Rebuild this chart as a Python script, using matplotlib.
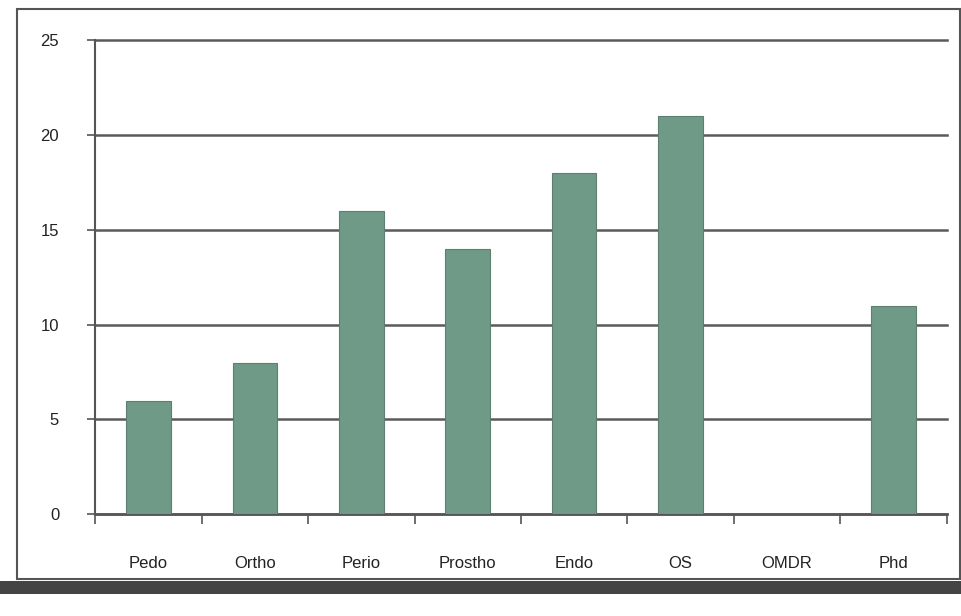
import matplotlib.pyplot as plt
import numpy as np
from matplotlib.patches import Rectangle

# Bar chart of departments
departments = ['Pedo', 'Ortho', 'Perio', 'Prostho', 'Endo', 'OS', 'OMDR', 'Phd']
counts = [6, 8, 16, 14, 18, 21, 0, 11]
yticks = [0, 5, 10, 15, 20, 25]

plt.rcParams['font.family'] = ['Liberation Sans', 'DejaVu Sans']

fig = plt.figure(figsize=(9.62, 6.16), dpi=100)
fig.patch.set_facecolor('white')

# outer frame of the chart, like the Excel chart box
frame = Rectangle((0.018, 0.06), 0.98, 0.925, transform=fig.transFigure,
                  fill=False, edgecolor='#555555', linewidth=1.5)
fig.patches.append(frame)
shadow = Rectangle((0.0, 0.035), 1.0, 0.022, transform=fig.transFigure,
                   facecolor='#444444', edgecolor='none')
fig.patches.append(shadow)

ax = fig.add_axes([0.099, 0.165, 0.885, 0.77])
x = np.arange(len(departments))
ax.bar(x, counts, width=0.42, color='#6f9a88', edgecolor='#5d7f72', linewidth=0.8, zorder=3)

ax.set_ylim(0, 25)
ax.set_yticks(yticks)
ax.set_xlim(-0.5, len(departments) - 0.5)
ax.yaxis.grid(True, color='#5a5a5a', linewidth=1.8, zorder=0)
for gl in ax.yaxis.get_gridlines():
    gl.set_clip_on(False)

ax.set_xticks(x)
ax.set_xticklabels(departments, fontsize=12, color='#222222')
ax.tick_params(axis='x', length=0, pad=30)
ax.set_xticks(np.arange(len(departments) + 1) - 0.5, minor=True)
ax.tick_params(axis='x', which='minor', length=7, width=1.2, direction='out', color='#555555')
ax.tick_params(axis='y', labelsize=12, length=6, width=1.2, color='#555555', labelcolor='#222222', pad=20)

for side in ['top', 'right']:
    ax.spines[side].set_visible(False)
ax.spines['left'].set_color('#555555')
ax.spines['left'].set_linewidth(1.5)
ax.spines['bottom'].set_color('#555555')
ax.spines['bottom'].set_linewidth(1.8)

plt.savefig('out.png', dpi=100)
